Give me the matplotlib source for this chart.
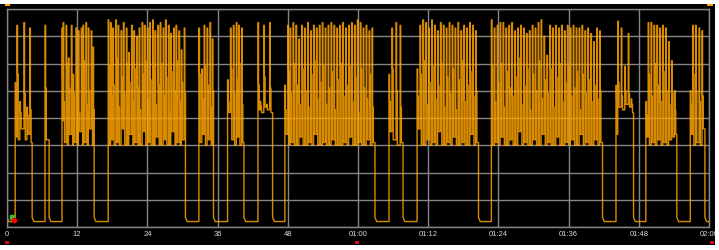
import matplotlib
matplotlib.use('Agg')
import matplotlib.pyplot as plt
from matplotlib.patches import Rectangle

# low (idle) periods, seconds
off_start = [0.0, 4.3, 7.2, 14.9, 30.5, 35.3, 40.5, 45.4, 62.9, 67.7, 80.6, 101.8, 107.1, 114.5, 119.3]
off_end = [1.0, 6.3, 9.3, 17.1, 32.6, 37.5, 42.7, 47.3, 65.0, 69.9, 82.6, 103.9, 109.0, 116.6, 120.0]
off_hi = 0.35
off_lo = 0.2

# spikes during active periods: time, peak value, intermediate step, value it falls back to
spike_t = [1.4, 1.7, 2.2, 2.9, 3.4, 3.9,
           6.5,
           9.4, 9.6, 10.1, 10.5, 11.0, 11.3, 11.8, 12.2, 12.7, 13.0, 13.5, 13.9, 14.4, 14.7,
           17.3, 17.7, 18.1, 18.6, 19.0, 19.5, 19.9, 20.4, 20.8, 21.3, 21.7, 22.2, 22.6, 23.1, 23.5,
           24.0, 24.4, 24.9, 25.3, 25.8, 26.2, 26.7, 27.1, 27.6, 28.0, 28.5, 28.9, 29.4, 29.8, 30.3,
           32.8, 33.3, 33.7, 34.2, 34.7, 35.1,
           37.7, 38.2, 38.7, 39.2, 39.6, 40.1,
           42.9, 43.3, 43.9, 44.4, 44.9,
           47.5, 48.0, 48.4, 48.9, 49.4, 49.9, 50.4, 50.9, 51.4, 51.9, 52.4, 52.9, 53.4, 53.9, 54.4, 54.9,
           55.4, 55.9, 56.4, 56.9, 57.4, 57.9, 58.4, 58.9, 59.4, 59.9, 60.4, 60.9, 61.4, 61.9, 62.4,
           65.3, 65.8, 66.5, 67.2,
           70.1, 70.6, 71.1, 71.6, 72.1, 72.6, 73.1, 73.6, 74.1, 74.6, 75.1, 75.6, 76.1, 76.6, 77.1, 77.6,
           78.1, 78.6, 79.1, 79.6, 80.1,
           82.8, 83.3, 83.8, 84.3, 84.8, 85.3, 85.8, 86.3, 86.8, 87.3, 87.8, 88.3, 88.8, 89.3, 89.8, 90.3,
           90.8, 91.3, 91.8, 92.3, 92.8, 93.3, 93.8, 94.3, 94.8, 95.3, 95.8, 96.3, 96.8, 97.3, 97.8, 98.3,
           98.8, 99.3, 99.8, 100.3, 100.8, 101.3,
           104.1, 104.4, 105.0, 105.6, 106.2, 106.7,
           109.2, 109.6, 110.1, 110.6, 111.1, 111.6, 112.1, 112.6, 113.1, 113.6, 114.1,
           116.8, 117.2, 117.7, 118.3, 118.8]
spike_peak = [5.3, 7.4, 4.6, 7.5, 4.4, 7.3,
              7.4,
              7.3, 7.5, 7.4, 6.2, 7.4, 5.6, 7.3, 7.2, 7.3, 7.4, 7.5, 7.3, 7.2, 6.6,
              7.6, 7.5, 7.3, 7.6, 7.4, 7.2, 7.5, 7.3, 6.4, 7.4, 7.2, 7.0, 7.3, 7.5, 7.4,
              7.3, 7.5, 7.6, 7.2, 7.4, 7.5, 7.3, 7.6, 7.4, 7.1, 7.3, 7.4, 7.2, 6.5, 7.3,
              7.3, 5.8, 7.4, 7.3, 7.5, 6.9,
              5.4, 7.3, 7.4, 7.5, 7.4, 7.3,
              7.5, 4.6, 7.4, 4.5, 7.5,
              5.2, 7.4, 7.3, 7.5, 7.4, 6.9, 7.4, 7.3, 7.5, 7.2, 7.4, 7.3, 7.4, 7.5, 7.3, 7.4,
              7.5, 7.4, 7.3, 7.4, 7.5, 7.3, 7.4, 7.5, 7.4, 7.6, 7.5, 7.3, 7.4, 7.2, 7.3,
              5.6, 7.3, 7.5, 7.4,
              5.8, 7.4, 7.6, 7.5, 7.3, 7.6, 7.4, 7.2, 7.5, 7.4, 7.3, 7.5, 7.4, 7.3, 7.5, 7.2,
              7.4, 7.3, 7.5, 7.4, 7.2,
              7.6, 7.3, 7.4, 7.5, 7.5, 7.3, 7.4, 7.5, 7.2, 7.3, 7.4, 7.3, 7.1, 7.2, 7.4, 7.3,
              7.5, 7.6, 7.0, 6.3, 7.4, 7.3, 7.4, 7.3, 7.4, 7.2, 7.4, 7.3, 7.4, 7.3, 7.3, 7.4,
              7.2, 7.3, 7.1, 6.8, 7.3, 7.2,
              5.2, 7.55, 7.3, 5.9, 7.1, 4.7,
              4.6, 7.5, 7.5, 7.4, 7.4, 7.3, 7.4, 7.3, 6.8, 6.1, 5.0,
              5.0, 7.4, 7.4, 7.3, 7.2]
spike_mid = [4.4, 5.6, 4.2, 4.9, 4.1, 4.3,
             5.1,
             5.5, 4.6, 6.0, 5.1, 4.4, 4.9, 5.7, 4.2, 5.3, 6.1, 4.5, 5.0, 5.8, 4.3,
             5.9, 4.8, 5.2, 6.2, 4.4, 5.5, 4.9, 6.0, 5.3, 4.6, 5.8, 5.1, 4.3, 5.6, 6.1,
             4.7, 5.4, 5.9, 4.5, 5.2, 6.0, 4.8, 5.5, 4.2, 5.7, 5.0, 6.1, 4.6, 5.3, 4.9,
             5.6, 4.7, 5.9, 5.2, 4.4, 5.0,
             4.6, 5.8, 4.9, 5.4, 6.0, 4.5,
             5.2, 4.4, 5.5, 4.3, 5.1,
             4.3, 5.7, 4.9, 6.0, 5.2, 4.5, 5.8, 5.0, 4.4, 5.6, 6.1, 4.7, 5.3, 5.9, 4.5, 5.1,
             5.7, 4.3, 5.4, 6.0, 4.8, 5.2, 5.9, 4.6, 5.5, 4.2, 5.8, 5.1, 4.7, 5.6, 4.4,
             4.6, 5.8, 5.0, 4.4,
             4.8, 5.6, 6.1, 4.5, 5.3, 5.9, 4.7, 5.2, 6.0, 4.4, 5.5, 4.9, 5.8, 4.3, 5.4, 6.1,
             4.6, 5.2, 5.7, 4.8, 5.0,
             5.9, 4.6, 5.3, 6.0, 4.4, 5.7, 5.1, 4.8, 5.5, 6.2, 4.5, 5.2, 5.8, 4.3, 5.6, 5.0,
             6.1, 4.7, 5.4, 4.9, 5.8, 4.4, 5.5, 6.0, 4.6, 5.3, 5.9, 4.8, 5.1, 5.7, 4.3, 5.6,
             4.9, 5.4, 4.6, 5.2, 4.7, 5.0,
             4.7, 5.3, 4.8, 5.0, 4.9, 4.5,
             4.1, 5.6, 4.8, 6.0, 5.2, 4.6, 5.7, 5.0, 4.5, 4.9, 4.3,
             4.5, 5.6, 5.0, 4.6, 4.8]
spike_low = [3.3, 3.2, 3.6, 3.2, 3.4, 3.1,
             3.2,
             3.9, 3.1, 3.0, 3.4, 3.0, 3.1, 3.0, 3.5, 3.0, 3.1, 3.0, 3.6, 3.0, 3.1,
             3.0, 3.2, 3.0, 3.1, 3.0, 3.6, 3.0, 3.0, 3.4, 3.0, 3.1, 3.0, 3.0, 3.5, 3.0,
             3.1, 3.0, 3.0, 3.3, 3.0, 3.0, 3.2, 3.0, 3.0, 3.5, 3.0, 3.1, 3.0, 3.2, 3.0,
             3.1, 3.4, 3.0, 3.2, 3.0, 3.1,
             4.2, 3.2, 3.0, 3.3, 3.0, 3.1,
             4.3, 4.2, 4.4, 4.3, 4.2,
             3.4, 3.0, 3.1, 3.0, 3.0, 3.3, 3.0, 3.0, 3.1, 3.0, 3.4, 3.0, 3.0, 3.1, 3.0, 3.0,
             3.2, 3.0, 3.0, 3.0, 3.1, 3.0, 3.3, 3.0, 3.0, 3.1, 3.0, 3.0, 3.2, 3.0, 3.1,
             3.5, 3.2, 3.0, 3.1,
             3.6, 3.0, 3.0, 3.2, 3.0, 3.1, 3.0, 3.5, 3.0, 3.0, 3.1, 3.0, 3.3, 3.0, 3.0, 3.1,
             3.0, 3.0, 3.4, 3.0, 3.1,
             3.0, 3.1, 3.0, 3.3, 3.0, 3.0, 3.2, 3.0, 3.0, 3.5, 3.0, 3.1, 3.0, 3.0, 3.2, 3.0,
             3.0, 3.4, 3.0, 3.1, 3.0, 3.0, 3.3, 3.0, 3.0, 3.1, 3.0, 3.2, 3.0, 3.0, 3.4, 3.0,
             3.1, 3.0, 3.0, 3.2, 3.0, 3.1,
             3.4, 4.4, 4.3, 4.5, 4.4, 4.2,
             3.3, 3.0, 3.1, 3.0, 3.2, 3.0, 3.1, 3.0, 3.2, 3.3, 3.4,
             3.4, 3.0, 3.1, 3.0, 3.6]

tick_pos = [0, 12, 24, 36, 48, 60, 72, 84, 96, 108, 120]
tick_lbl = ['0', '12', '24', '36', '48', '01:00', '01:12', '01:24', '01:36', '01:48', '02:00']

# build the trace
ts, vs = [], []
for i in range(len(off_start)):
    s, e = off_start[i], off_end[i]
    if ts:
        ts.append(s); vs.append(vs[-1])
    ts += [s, s + 0.3, e]
    vs += [off_hi, off_lo, off_lo]
    nxt = off_start[i + 1] if i + 1 < len(off_start) else 999
    for t, p, m, lo in zip(spike_t, spike_peak, spike_mid, spike_low):
        if e < t < nxt:
            ts += [t, t, t + 0.1, t + 0.1, t + 0.22, t + 0.22]
            vs += [vs[-1], p, p, m, m, lo]

fig = plt.figure(figsize=(7.19, 2.5), dpi=100)
fig.patch.set_facecolor('black')
# white margins around the black panel
fig.patches.append(Rectangle((0, 246 / 250), 1, 4 / 250, transform=fig.transFigure,
                             facecolor='white', edgecolor='none'))
fig.patches.append(Rectangle((0, 0), 1, 5 / 250, transform=fig.transFigure,
                             facecolor='white', edgecolor='none'))
fig.patches.append(Rectangle((715 / 719, 0), 4 / 719, 1, transform=fig.transFigure,
                             facecolor='white', edgecolor='none'))

ax = fig.add_axes([7 / 719, 23 / 250, 702 / 719, 218 / 250])
ax.set_facecolor('black')
ax.plot(ts, vs, color='#FFA400', lw=1.0, alpha=0.85)

ax.set_xlim(0, 120)
ax.set_ylim(0, 8)
ax.set_xticks(tick_pos)
ax.set_xticklabels(tick_lbl, fontsize=5.5, color='#d8d8d8', family='Liberation Sans')
ax.set_yticks(range(0, 9))
ax.tick_params(axis='y', left=False, labelleft=False)
ax.tick_params(axis='x', length=0, pad=3)
ax.grid(True, color='#858585', lw=1)
ax.set_axisbelow(True)
for sp in ax.spines.values():
    sp.set_color('#858585')
    sp.set_linewidth(1)

# small corner markers
fig.patches.append(Rectangle((5 / 719, 244 / 250), 5 / 719, 2 / 250, transform=fig.transFigure,
                             facecolor='#FFA400', edgecolor='none'))
fig.patches.append(Rectangle((707 / 719, 244 / 250), 6 / 719, 2 / 250, transform=fig.transFigure,
                             facecolor='#FFA400', edgecolor='none'))
ax.plot([0.8], [0.35], marker='s', ms=3, color='#30c030', clip_on=False)
ax.plot([1.2], [0.25], marker='o', ms=3, color='red', clip_on=False)
for xr in [7, 357, 712]:
    fig.patches.append(Rectangle(((xr - 2) / 719, 6 / 250), 4 / 719, 3 / 250, transform=fig.transFigure,
                                 facecolor='#d01010', edgecolor='none'))

fig.savefig('out.png', dpi=100, facecolor=fig.get_facecolor())
